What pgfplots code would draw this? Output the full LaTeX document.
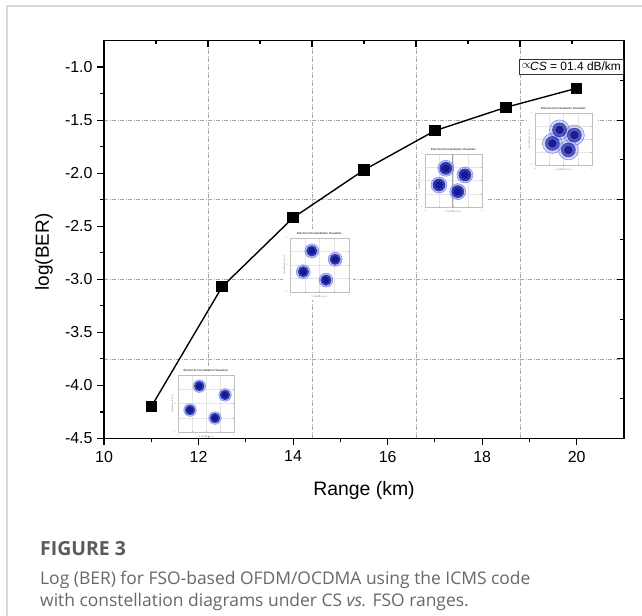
\documentclass[border=0pt]{standalone}
\usepackage{pgfplots}
\pgfplotsset{compat=1.18}
\usepackage{fontspec}
\setmainfont{Liberation Sans}
\newfontfamily\capfont{Open Sans}
\definecolor{capgray}{HTML}{686868}
\definecolor{capgrayb}{HTML}{5A5A5A}
\definecolor{clus}{RGB}{30,40,175}
\definecolor{clusdark}{RGB}{20,20,130}
\definecolor{clushalo}{RGB}{110,120,225}
\definecolor{gridc}{HTML}{A8A8A8}

\pgfplotsset{
  mainframe/.style={
    at={(104bp,177.5bp)}, anchor=south west, scale only axis,
    width=520bp, height=398bp,
    xmin=10, xmax=21, ymin=-4.5, ymax=-0.75,
    axis line style={black, line width=1.3bp},
  },
  inset/.style={
    scale only axis, anchor=north west,
    xmin=-1, xmax=1, ymin=-1, ymax=1,
    axis line style={gray!50, line width=0.3bp},
    xtick={-1,-0.5,0,0.5,1}, ytick={-1,-0.5,0,0.5,1},
    xticklabels={-1,,0,,1}, yticklabels={-1,,0,,1},
    tick label style={font=\fontsize{2.2}{2.2}\selectfont, text=gray},
    xticklabel style={yshift=1bp}, yticklabel style={xshift=1bp},
    tick style={gray!60, line width=0.2bp}, major tick length=1bp,
    grid=major, grid style={gray!20, line width=0.25bp},
  },
  halo/.style={only marks, mark=*, color=clushalo, mark options={draw=none, fill opacity=0.45}},
  body/.style={only marks, mark=*, color=clus, mark options={draw=none, fill opacity=0.9}},
  core/.style={only marks, mark=*, color=clusdark, mark options={draw=none, fill opacity=0.85}},
}

\newcommand{\insetlabels}[5]{% left, right, top, bottom (y down px), title
  \node[font=\fontsize{2.8}{2.8}\selectfont\bfseries, text=black!75, inner sep=0] at ({(#1+#2)/2}, {616-#3+4}) {#5};
  \node[font=\fontsize{2.4}{2.4}\selectfont, text=gray, inner sep=0, rotate=90] at ({#1-5.5}, {616-(#3+#4)/2}) {Quadrature (a.u.)};
  \node[font=\fontsize{2.4}{2.4}\selectfont, text=gray, inner sep=0] at ({(#1+#2)/2}, {616-#4-5}) {In-phase (a.u.)};
}

\begin{document}
\begin{tikzpicture}[x=1bp, y=1bp]
\useasboundingbox (0,0) rectangle (642,616);
\fill[white] (0,0) rectangle (642,616);
\draw[gray!30, line width=1.3bp] (7,0) -- (7,610) -- (642,610);

% grid + top/right ticks
\begin{axis}[mainframe,
  xtick={12.2,14.4,16.6,18.8}, minor xtick={11.1,13.3,15.5,17.7,19.9},
  ytick={-3.75,-3,-2.25,-1.5}, minor ytick={-4.125,-3.375,-2.625,-1.875,-1.125},
  xticklabels={}, yticklabels={},
  xtick pos=right, ytick pos=right, tick align=inside,
  major tick length=7bp, minor tick length=4bp,
  every tick/.style={black, line width=1.1bp},
  grid=major,
  major grid style={gridc, line width=0.55bp, dash pattern=on 4bp off 1.5bp on 1bp off 1.5bp},
]
\addplot[draw=none] coordinates {(10,-4.5)};
\end{axis}

% ---- insets ----
\fill[white] (170,180) rectangle (240,250);
\fill[white] (283,316) rectangle (353,387);
\fill[white] (418,404) rectangle (488,472);
\fill[white] (528,444) rectangle (598,512);

\begin{axis}[inset, at={(178bp,241bp)}, width=56bp, height=57bp]
\addplot[halo, mark size=6.3bp] coordinates {(-0.24,0.61) (0.68,0.30) (-0.57,-0.23) (0.32,-0.51)};
\addplot[body, mark size=4.8bp] coordinates {(-0.24,0.61) (0.68,0.30) (-0.57,-0.23) (0.32,-0.51)};
\addplot[core, mark size=2.8bp] coordinates {(-0.24,0.61) (0.68,0.30) (-0.57,-0.23) (0.32,-0.51)};
\end{axis}
\insetlabels{178}{234}{375}{432}{Electrical Constellation Visualizer}

\begin{axis}[inset, at={(290bp,378bp)}, width=59bp, height=54bp]
\addplot[halo, mark size=7bp] coordinates {(-0.26,0.52) (0.53,0.21) (-0.55,-0.25) (0.22,-0.56)};
\addplot[body, mark size=5.2bp] coordinates {(-0.26,0.52) (0.53,0.21) (-0.55,-0.25) (0.22,-0.56)};
\addplot[core, mark size=3bp] coordinates {(-0.26,0.52) (0.53,0.21) (-0.55,-0.25) (0.22,-0.56)};
\end{axis}
\insetlabels{290}{349}{238}{292}{Electrical Constellation Visualizer}

\begin{axis}[inset, at={(425bp,462bp)}, width=57bp, height=53bp]
\addplot[gray!70, line width=0.3bp] coordinates {(-0.06,-1) (-0.06,1)};
\addplot[halo, mark size=8bp] coordinates {(-0.27,0.46) (0.40,0.21) (-0.51,-0.17) (0.15,-0.42)};
\addplot[body, mark size=6bp] coordinates {(-0.27,0.46) (0.40,0.21) (-0.51,-0.17) (0.15,-0.42)};
\addplot[core, mark size=3.5bp] coordinates {(-0.27,0.46) (0.40,0.21) (-0.51,-0.17) (0.15,-0.42)};
\end{axis}
\insetlabels{425}{482}{154}{207}{Electrical Constellation Visualizer}

\begin{axis}[inset, at={(535bp,503bp)}, width=57bp, height=52bp]
\addplot[halo, mark size=10bp, mark options={draw=none, fill opacity=0.3}] coordinates {(-0.14,0.35) (0.38,0.15) (-0.39,-0.17) (0.17,-0.42)};
\addplot[body, mark size=7bp, mark options={draw=none, fill opacity=0.7}] coordinates {(-0.14,0.35) (0.38,0.15) (-0.39,-0.17) (0.17,-0.42)};
\addplot[core, mark size=3.8bp] coordinates {(-0.14,0.35) (0.38,0.15) (-0.39,-0.17) (0.17,-0.42)};
\end{axis}
\insetlabels{535}{592}{113}{165}{Electrical Constellation Visualizer}

% main axis: bottom/left ticks, labels, data
\begin{axis}[mainframe,
  xtick={10,12,14,16,18,20}, xticklabels={10,12,14,16,18,20},
  minor xtick={11,13,15,17,19},
  ytick={-4.5,-4,-3.5,-3,-2.5,-2,-1.5,-1},
  yticklabels={-4.5,-4.0,-3.5,-3.0,-2.5,-2.0,-1.5,-1.0},
  minor ytick={-4.25,-3.75,-3.25,-2.75,-2.25,-1.75,-1.25},
  xtick pos=left, ytick pos=left, tick align=outside,
  major tick length=7bp, minor tick length=4bp,
  every tick/.style={black, line width=1.1bp},
  tick label style={font=\fontsize{16}{16}\selectfont},
  xticklabel style={yshift=-2bp},
  yticklabel style={xshift=-1bp},
]
\addplot[black, line width=1.4bp, mark=square*, mark size=5bp, mark options={solid, fill=black}]
  coordinates {(11,-4.20) (12.5,-3.07) (14,-2.42) (15.5,-1.97) (17,-1.60) (18.5,-1.38) (20,-1.20)};
\end{axis}

\node[font=\fontsize{19.5}{19.5}\selectfont] at (364,126) {Range (km)};
\node[font=\fontsize{19}{19}\selectfont, rotate=90] at (44,364) {log(BER)};

% annotation box
\draw[black!80, line width=0.7bp, fill=white] (519.8,557) rectangle (623,541.5);
\node[inner sep=0, font=\fontsize{12}{12}\selectfont] at (571.4,549.3)
  {\raisebox{2.5bp}{$\propto$}\kern-1bp$\mathit{CS}$ = 01.4 dB/km};

% caption
\node[anchor=base west, inner sep=0, text=capgrayb, font=\capfont\bfseries\fontsize{19.5}{19.5}\selectfont] at (40,60) {FIGURE 3};
\node[anchor=base west, inner sep=0, text=capgray, font=\capfont\fontsize{17.5}{17.5}\selectfont] at (40,31) {Log (BER) for FSO-based OFDM/OCDMA using the ICMS code};
\node[anchor=base west, inner sep=0, text=capgray, font=\capfont\fontsize{17.5}{17.5}\selectfont] at (40,9) {with constellation diagrams under CS \textit{vs.} FSO ranges.};
\end{tikzpicture}
\end{document}
